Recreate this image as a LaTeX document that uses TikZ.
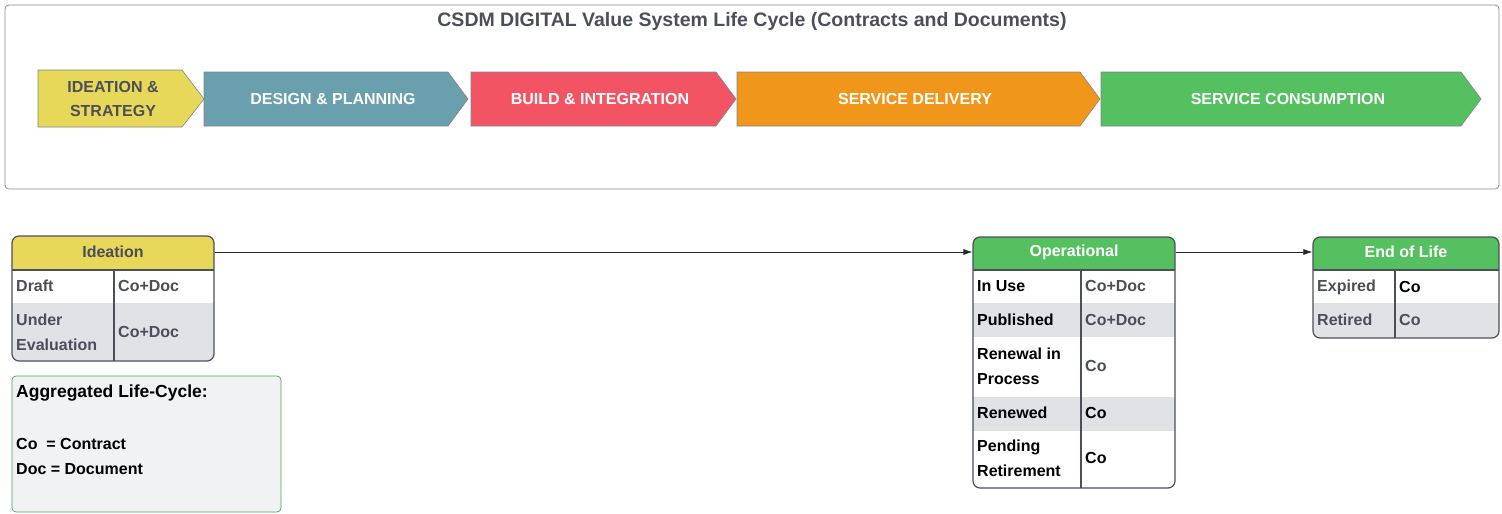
\documentclass[tikz,border=0pt]{standalone}
\usepackage{fontspec}
\setmainfont{Liberation Sans}
\usetikzlibrary{arrows.meta}
\definecolor{ylw}{HTML}{E8D85A}
\definecolor{teal}{HTML}{6A9FAE}
\definecolor{redc}{HTML}{F25464}
\definecolor{orng}{HTML}{F0961A}
\definecolor{grn}{HTML}{55C060}
\definecolor{rowg}{HTML}{E0E2E6}
\definecolor{txg}{HTML}{4A4F5A}
\definecolor{frm}{HTML}{4A4F5A}
\definecolor{lg}{HTML}{F1F2F4}
\tikzset{
 chev/.style={draw=frm!70,line width=0.6pt},
 chtxt/.style={font=\bfseries\fontsize{16}{24}\selectfont,align=center,text=white},
 cell/.style={font=\bfseries\fontsize{16}{25}\selectfont,anchor=west,align=left,inner sep=0pt},
 hdr/.style={font=\bfseries\fontsize{16}{19}\selectfont,text=white},
 tframe/.style={draw=frm,line width=1.2pt,rounded corners=7pt},
 conn/.style={draw=black!85,line width=0.7pt,-{Latex[length=9pt,width=6pt]}}
}
\begin{document}
\begin{tikzpicture}[x=1pt,y=-1pt]
\useasboundingbox (0,0) rectangle (1502,514);
% header frame
\draw[black!45,line width=0.8pt,rounded corners=4pt] (5,5) rectangle (1499,189);
\node[font=\bfseries\fontsize{19.5}{22}\selectfont,text=txg] (title) at (752,21) {CSDM DIGITAL Value System Life Cycle (Contracts and Documents)};
% chevrons
\fill[ylw] (38,70)--(182,70)--(204,99)--(182,127)--(38,127)--cycle;
\draw[chev] (38,70)--(182,70)--(204,99)--(182,127)--(38,127)--cycle;
\node[chtxt,text=txg] (c1) at (113,99) {IDEATION \&\\STRATEGY};
\fill[teal] (204,72)--(448,72)--(468,99)--(448,126)--(204,126)--cycle;
\draw[chev] (204,72)--(448,72)--(468,99)--(448,126)--(204,126)--cycle;
\node[chtxt] (c2) at (333,99) {DESIGN \& PLANNING};
\fill[redc] (471,72)--(716,72)--(736,99)--(716,126)--(471,126)--cycle;
\draw[chev] (471,72)--(716,72)--(736,99)--(716,126)--(471,126)--cycle;
\node[chtxt] (c3) at (600,99) {BUILD \& INTEGRATION};
\fill[orng] (737,72)--(1080,72)--(1100,99)--(1080,126)--(737,126)--cycle;
\draw[chev] (737,72)--(1080,72)--(1100,99)--(1080,126)--(737,126)--cycle;
\node[chtxt] (c4) at (915,99) {SERVICE DELIVERY};
\fill[grn] (1101,72)--(1461,72)--(1481,99)--(1461,126)--(1101,126)--cycle;
\draw[chev] (1101,72)--(1461,72)--(1481,99)--(1461,126)--(1101,126)--cycle;
\node[chtxt] (c5) at (1288,99) {SERVICE CONSUMPTION};
% Ideation table
\begin{scope}
\clip[rounded corners=7pt] (12,236) rectangle (214,361);
\fill[ylw] (12,236) rectangle (214,270);
\fill[white] (12,270) rectangle (214,303);
\fill[rowg] (12,303) rectangle (214,361);
\end{scope}
\draw[frm,line width=1.2pt] (12,270)--(214,270) (114,270)--(114,361);
\node[tframe,minimum width=202pt,minimum height=125pt,inner sep=0pt] (ide) at (113,298.5) {};
\node[hdr,text=txg] (ideh) at (113,252) {Ideation};
\node[cell,text=txg] at (16,286) {Draft};
\node[cell,text=txg] at (118,286) {Co+Doc};
\node[cell,text=txg] at (16,332) {Under\\Evaluation};
\node[cell,text=txg] at (118,332) {Co+Doc};
% legend
\node[draw=grn!85!black,fill=lg,rounded corners=4pt,line width=0.7pt,minimum width=269pt,minimum height=136pt] (leg) at (146.5,444) {};
\node[font=\bfseries\fontsize{17.5}{20}\selectfont,anchor=west,inner sep=0pt] (lt) at (16,393) {Aggregated Life-Cycle:};
\node[cell,anchor=west] (l1) at (16,444) {Co\ \ = Contract};
\node[cell,anchor=west] (l2) at (16,469) {Doc = Document};
% Operational
\begin{scope}
\clip[rounded corners=7pt] (973,237) rectangle (1175,488);
\fill[grn] (973,237) rectangle (1175,270);
\fill[white] (973,270) rectangle (1175,488);
\fill[rowg] (973,303) rectangle (1175,337);
\fill[rowg] (973,397) rectangle (1175,431);
\end{scope}
\draw[frm,line width=1.2pt] (973,270)--(1175,270) (1081,270)--(1081,488);
\node[tframe,minimum width=202pt,minimum height=251pt,inner sep=0pt] (op) at (1074,362.5) {};
\node[hdr] (oph) at (1074,252) {Operational};
\node[cell] at (977,286) {In Use};
\node[cell,text=txg] at (1085,286) {Co+Doc};
\node[cell] at (977,320) {Published};
\node[cell,text=txg] at (1085,320) {Co+Doc};
\node[cell] at (977,366) {Renewal in\\Process};
\node[cell,text=txg] at (1085,366) {Co};
\node[cell] at (977,413) {Renewed};
\node[cell] at (1085,413) {Co};
\node[cell] at (977,458) {Pending\\Retirement};
\node[cell] at (1085,458) {Co};
% End of Life
\begin{scope}
\clip[rounded corners=7pt] (1313,237) rectangle (1499,338);
\fill[grn] (1313,237) rectangle (1499,270);
\fill[white] (1313,270) rectangle (1499,303);
\fill[rowg] (1313,303) rectangle (1499,338);
\end{scope}
\draw[frm,line width=1.2pt] (1313,270)--(1499,270) (1395,270)--(1395,338);
\node[tframe,minimum width=186pt,minimum height=101pt,inner sep=0pt] (eol) at (1406,287.5) {};
\node[hdr] (eolh) at (1406,252) {End of Life};
\node[cell,text=txg] at (1317,287) {Expired};
\node[cell] at (1399,287) {Co};
\node[cell,text=txg] at (1317,320) {Retired};
\node[cell,text=txg] at (1399,320) {Co};
% connectors
\draw[conn] (ide.east |- ideh) -- (op.west |- ideh);
\draw[conn] (op.east |- oph) -- (eol.west |- oph);
\end{tikzpicture}
\end{document}
